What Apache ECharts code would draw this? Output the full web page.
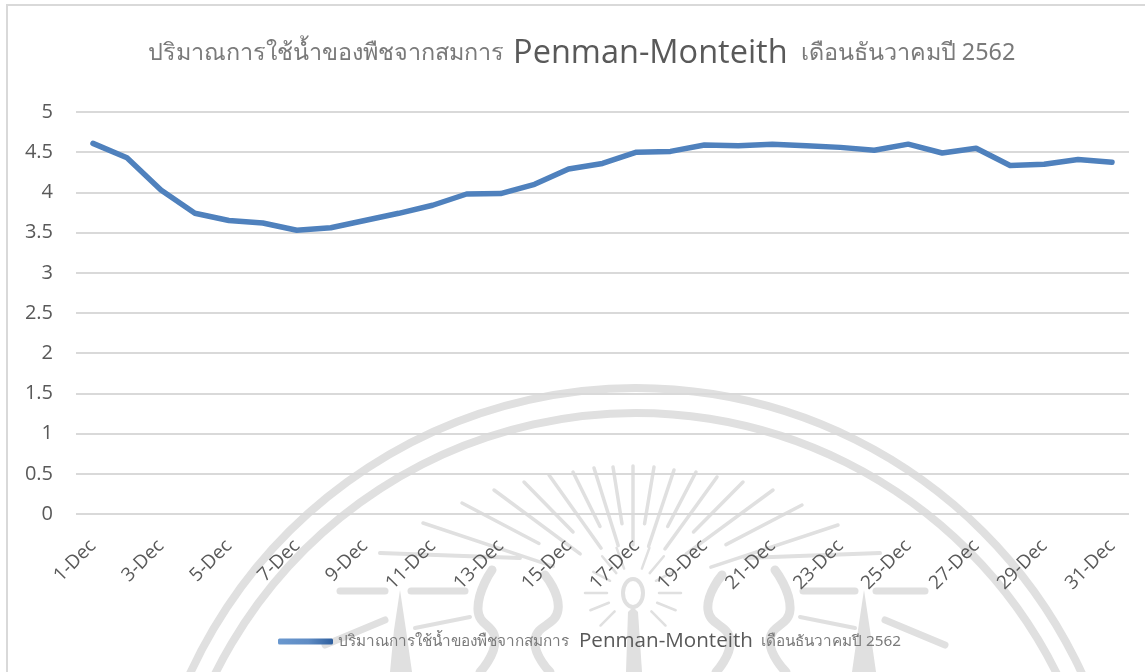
<!DOCTYPE html>
<html><head><meta charset="utf-8">
<style>html,body{margin:0;padding:0;background:#fff}#c{width:1145px;height:672px}</style>
<script src="https://cdn.jsdelivr.net/npm/echarts@6/dist/echarts.min.js"></script>
</head><body><div id="c"></div>
<script>
const days = ['1-Dec','2-Dec','3-Dec','4-Dec','5-Dec','6-Dec','7-Dec','8-Dec','9-Dec','10-Dec','11-Dec','12-Dec','13-Dec','14-Dec','15-Dec','16-Dec','17-Dec','18-Dec','19-Dec','20-Dec','21-Dec','22-Dec','23-Dec','24-Dec','25-Dec','26-Dec','27-Dec','28-Dec','29-Dec','30-Dec','31-Dec'];
const etc = [4.61,4.43,4.03,3.74,3.65,3.62,3.53,3.56,3.65,3.74,3.84,3.98,3.985,4.1,4.29,4.36,4.5,4.51,4.59,4.58,4.6,4.58,4.56,4.525,4.6,4.49,4.55,4.335,4.35,4.41,4.375];
const seriesName = 'ปริมาณการใช้น้ำของพืชจากสมการ Penman-Monteith เดือนธันวาคมปี 2562';
const titleParts = ['ปริมาณการใช้น้ำของพืชจากสมการ ','Penman-Monteith',' เดือนธันวาคมปี 2562'];

// faint emblem watermark behind the chart (decoration, not data)
const WM = '#e0e0e0';
const CX = 633, CY = 593;
const deco = (type, shape, style) => ({type, silent:true, z:-1, shape, style});
const stroke = (w) => ({fill:null, stroke:WM, lineWidth:w, lineCap:'round', lineJoin:'round'});
const wmArc = (cy, r, w) => deco('arc',{cx:636,cy,r,startAngle:Math.PI*1.05,endAngle:Math.PI*1.95},stroke(w));
const rayTips = [[423,523],[462,503],[494,490],[524,482],[549,475],[573,472],[594,468],[613,467],[633,466],[654,467],[674,470],[696,472],[717,477],[743,482],[773,490],[802,505],[838,525]];
const rays = rayTips.map(([x,y],i) => {
  const f = i%2 ? 0.45 : 0.62;
  return deco('line',{x1:x,y1:y,x2:x+(CX-x)*f,y2:y+(CY-y)*f},stroke(3.5));
});
const shortRays = [[-62,45],[-40,48],[-20,48],[20,48],[40,48],[62,45],[-90,48],[90,48],[-112,46],[112,46],[-135,46],[135,46]].map(([d,r]) => {
  const a = d*Math.PI/180, s = Math.sin(a), c = Math.cos(a);
  return deco('line',{x1:CX+26*s,y1:CY-26*c,x2:CX+r*s,y2:CY-r*c},stroke(2.5));
});
const flame = (pts) => deco('polyline',{points:pts,smooth:0.5},stroke(9));
const wmBits = [
  deco('ellipse',{cx:CX,cy:CY,rx:10,ry:14},{fill:'#fff',stroke:WM,lineWidth:4}),
  deco('polygon',{points:[[626,672],[628,612],[633,607],[638,612],[642,672]]},{fill:WM}),
  deco('line',{x1:340,y1:591,x2:385,y2:591},stroke(7)),
  deco('line',{x1:411,y1:591,x2:465,y2:591},stroke(7)),
  deco('line',{x1:803,y1:591,x2:855,y2:591},stroke(7)),
  deco('line',{x1:876,y1:591,x2:925,y2:591},stroke(7)),
  deco('line',{x1:380,y1:553,x2:520,y2:558},stroke(4)),
  deco('line',{x1:745,y1:558,x2:880,y2:553},stroke(4)),
  deco('polygon',{points:[[390,672],[394,630],[400,590],[406,630],[412,672]]},{fill:WM}),
  deco('polygon',{points:[[852,672],[858,630],[864,590],[870,630],[876,672]]},{fill:WM}),
  flame([[480,672],[495,640],[478,610],[492,570]]),
  flame([[550,672],[535,640],[558,610],[545,575]]),
  flame([[786,672],[770,640],[790,610],[775,570]]),
  flame([[716,672],[730,640],[708,610],[722,575]]),
  deco('line',{x1:800,y1:617,x2:855,y2:628},stroke(4)),
  deco('line',{x1:415,y1:628,x2:470,y2:617},stroke(4)),
  deco('line',{x1:885,y1:620,x2:945,y2:645},stroke(7)),
  deco('line',{x1:325,y1:645,x2:385,y2:620},stroke(7))
];

const chart = echarts.init(document.getElementById('c'));
chart.setOption({
  animation:false,
  backgroundColor:'#fff',
  textStyle:{fontFamily:'"Noto Sans","Open Sans",sans-serif'},
  title:{
    text:`{a|${titleParts[0]}}{b|${titleParts[1]}}{a|${titleParts[2]}}`,
    left:143, top:32,
    textStyle:{rich:{
      a:{fontSize:23.4,color:'#7a7a7a',fontFamily:'"Noto Sans","Open Sans",sans-serif',fontWeight:'normal'},
      b:{fontSize:32.5,color:'#595959',fontFamily:'"Open Sans",sans-serif',fontWeight:'normal',padding:[0,7,0,3]}
    }}
  },
  grid:{left:76,right:16,top:112,height:402,containLabel:false},
  legend:{
    top:626,left:273,
    icon:'roundRect',itemWidth:55,itemHeight:6,itemGap:4,
    data:[{name:seriesName,itemStyle:{color:new echarts.graphic.LinearGradient(0,0,1,0,[{offset:0,color:'#6a98cf'},{offset:0.55,color:'#5f8cc4'},{offset:1,color:'#2f5f9e'}])}}],
    formatter:()=>`{a|${titleParts[0]}}{b|${titleParts[1]}}{a|${titleParts[2]}}`,
    textStyle:{rich:{
      a:{fontSize:15.3,color:'#7a7a7a',fontFamily:'"Noto Sans",sans-serif'},
      b:{fontSize:20.6,color:'#595959',fontFamily:'"Open Sans",sans-serif',padding:[0,4,0,6]}
    }}
  },
  xAxis:{
    type:'category',data:days,boundaryGap:true,
    axisLine:{show:false},axisTick:{show:false},
    axisLabel:{interval:1,rotate:45,fontSize:19,color:'#595959',margin:29,fontFamily:'"Open Sans",sans-serif'}
  },
  yAxis:{
    type:'value',min:0,max:5,interval:0.5,
    axisLine:{show:false},axisTick:{show:false},
    axisLabel:{fontSize:20,color:'#595959',margin:23,padding:[4,0,0,0],fontFamily:'"Open Sans",sans-serif'},
    splitLine:{lineStyle:{color:'#d9d9d9',width:2}}
  },
  series:[{name:seriesName,type:'line',data:etc,symbol:'none',smooth:false,
    lineStyle:{color:'#4f81bd',width:5.5,cap:'round',join:'round'}}],
  graphic:[
    deco('polyline',{points:[[7,672],[7,5],[1145,5]]},{fill:null,stroke:'#d9d9d9',lineWidth:2}),
    wmArc(879,491,8),wmArc(883,470,8),...rays,...shortRays,...wmBits
  ]
});
</script></body></html>
